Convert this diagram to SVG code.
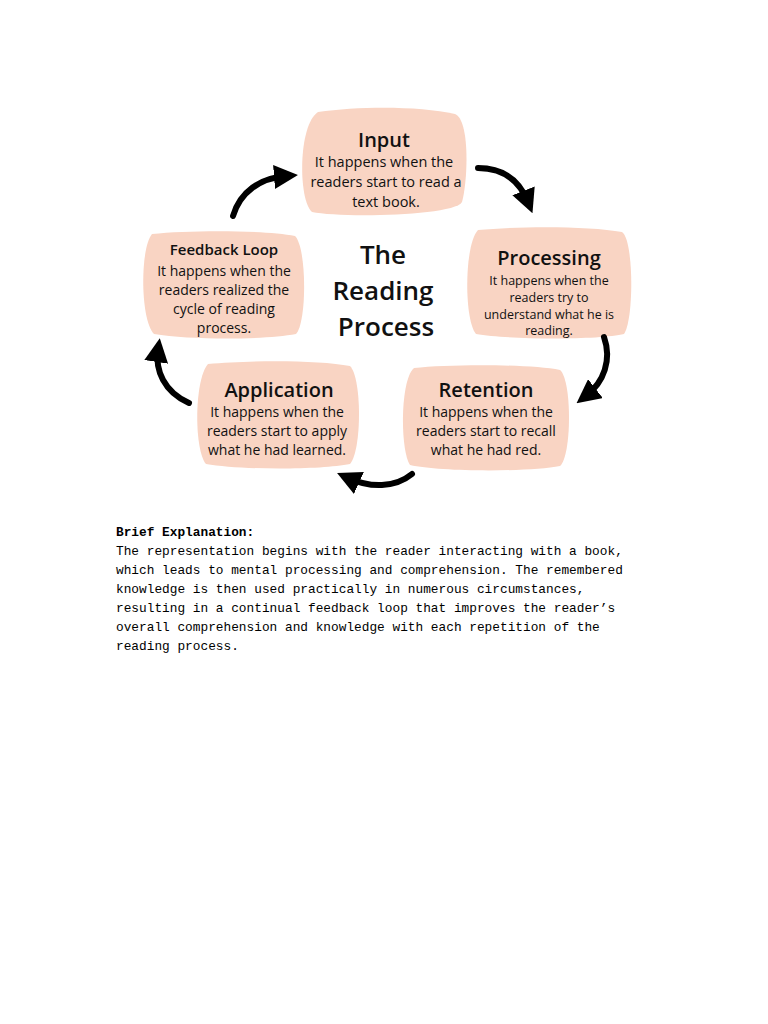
<svg xmlns="http://www.w3.org/2000/svg" width="768" height="1024" viewBox="0 0 768 1024">
<style>
.blob{fill:#F9D4C3}
.t{font-family:"Open Sans","Noto Sans",sans-serif;fill:#111;text-anchor:middle}
.h{font-weight:600}
.arr{fill:none;stroke:#000;stroke-width:6;stroke-linecap:round}
.body{font-family:"Liberation Mono",monospace;font-size:12.8px;fill:#000}
</style>
<defs>
<marker id="ah" viewBox="0 0 10 10" refX="5" refY="5" markerWidth="4" markerHeight="4" orient="auto" markerUnits="strokeWidth">
<path d="M0,0 L10,5 L0,10 Z" fill="#000"/>
</marker>
</defs>
<rect width="768" height="1024" fill="#fff"/>
<g id="input">
<path class="blob" d="M318,112 C360,106 420,106 455,114 C470,120 468,180 462,202 C455,216 340,218 312,212 C298,200 298,125 318,112 Z"/>
<text class="t h" x="384" y="147" font-size="20">Input</text>
<text class="t" x="384" y="167" font-size="14.5">It happens when the</text>
<text class="t" x="386" y="187" font-size="14.5">readers start to read a</text>
<text class="t" x="386" y="207" font-size="14.5">text book.</text>
</g>
<g id="processing">
<path class="blob" d="M478,230 C520,226 590,226 622,232 C634,240 634,320 624,334 C600,340 510,340 476,334 C464,320 464,245 478,230 Z"/>
<text class="t h" x="549" y="265" font-size="20">Processing</text>
<text class="t" x="549" y="285" font-size="12.5">It happens when the</text>
<text class="t" x="549" y="302" font-size="12.5">readers try to</text>
<text class="t" x="549" y="319" font-size="12.5">understand what he is</text>
<text class="t" x="549" y="335" font-size="12.5">reading.</text>
</g>
<g id="retention">
<path class="blob" d="M414,368 C450,364 530,364 560,370 C572,380 572,455 560,466 C530,472 440,472 410,465 C400,450 400,380 414,368 Z"/>
<text class="t h" x="486" y="397" font-size="20">Retention</text>
<text class="t" x="486" y="417" font-size="14">It happens when the</text>
<text class="t" x="486" y="436" font-size="14">readers start to recall</text>
<text class="t" x="486" y="455" font-size="14">what he had red.</text>
</g>
<g id="application">
<path class="blob" d="M208,364 C250,360 320,360 350,366 C362,378 362,450 350,464 C320,470 240,470 206,464 C194,450 194,380 208,364 Z"/>
<text class="t h" x="279" y="397" font-size="20">Application</text>
<text class="t" x="277" y="417" font-size="14">It happens when the</text>
<text class="t" x="277" y="436" font-size="14">readers start to apply</text>
<text class="t" x="277" y="455" font-size="14">what he had learned.</text>
</g>
<g id="feedback">
<path class="blob" d="M152,234 C190,230 265,230 295,236 C307,248 307,322 296,334 C265,340 190,340 154,334 C140,320 140,248 152,234 Z"/>
<text class="t h" x="224" y="255" font-size="15">Feedback Loop</text>
<text class="t" x="224" y="276" font-size="14">It happens when the</text>
<text class="t" x="224" y="295" font-size="14">readers realized the</text>
<text class="t" x="224" y="314" font-size="14">cycle of reading</text>
<text class="t" x="224" y="333" font-size="14">process.</text>
</g>
<g id="title">
<text class="t h" x="383" y="264" font-size="26">The</text>
<text class="t h" x="383" y="300" font-size="26">Reading</text>
<text class="t h" x="386" y="336" font-size="26">Process</text>
</g>
<g id="connectors">
<path class="arr" d="M478,168 C505,168 520,182 528,202" marker-end="url(#ah)"/>
<path class="arr" d="M604,337 C612,360 604,382 586,396" marker-end="url(#ah)"/>
<path class="arr" d="M412,474 C395,488 370,488 348,478" marker-end="url(#ah)"/>
<path class="arr" d="M189,403 C164,392 155,370 158,350" marker-end="url(#ah)"/>
<path class="arr" d="M233,216 C240,192 260,178 286,176" marker-end="url(#ah)"/>
</g>
<g id="explanation">
<text class="body" x="116" y="536" font-weight="bold">Brief Explanation:</text>
<text class="body" x="116" y="555">The representation begins with the reader interacting with a book,</text>
<text class="body" x="116" y="574">which leads to mental processing and comprehension. The remembered</text>
<text class="body" x="116" y="593">knowledge is then used practically in numerous circumstances,</text>
<text class="body" x="116" y="612">resulting in a continual feedback loop that improves the reader’s</text>
<text class="body" x="116" y="631">overall comprehension and knowledge with each repetition of the</text>
<text class="body" x="116" y="650">reading process.</text>
</g>
</svg>
